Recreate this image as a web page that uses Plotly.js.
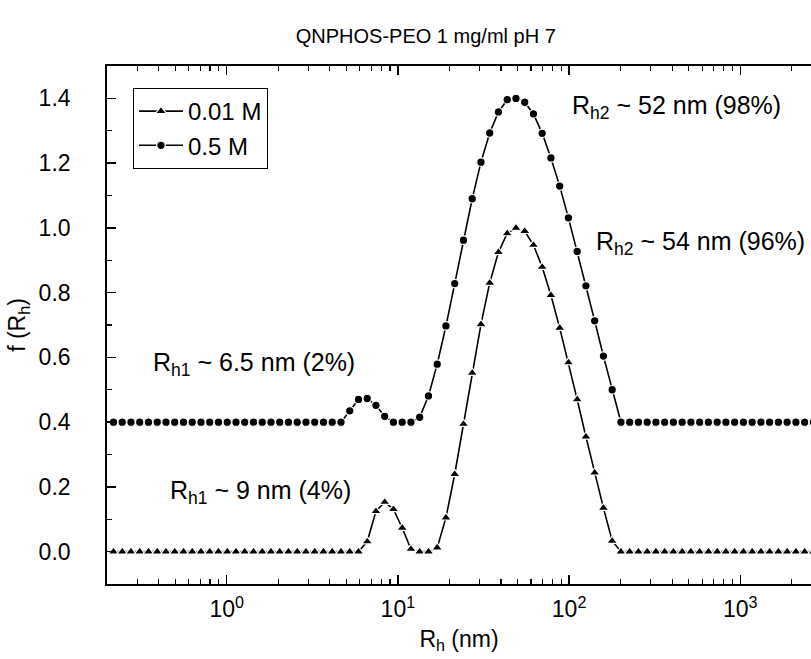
<!DOCTYPE html>
<html>
<head>
<meta charset="utf-8">
<script src="https://cdn.plot.ly/plotly-3.0.1.min.js"></script>
<style>html,body{margin:0;padding:0;background:#fff;}#chart{width:811px;height:659px;}</style>
</head>
<body>
<div id="chart"></div>
<script>
// Hydrodynamic radius grid (nm)
const rh = [0.2183, 0.2455, 0.2761, 0.3106, 0.3494, 0.3930, 0.4421, 0.4973, 0.5594, 0.6293,
  0.7079, 0.7963, 0.8958, 1.008, 1.134, 1.275, 1.434, 1.614, 1.815, 2.042,
  2.296, 2.583, 2.906, 3.269, 3.677, 4.136, 4.653, 5.234, 5.888, 6.622,
  7.447, 8.375, 9.423, 10.60, 11.92, 13.41, 15.09, 16.97, 19.09, 21.48,
  24.16, 27.17, 30.57, 34.38, 38.68, 43.51, 48.94, 55.06, 61.93, 69.66,
  78.34, 88.13, 99.13, 111.5, 125.4, 141.1, 158.7, 178.5, 200.9, 226.0,
  254.1, 285.8, 321.5, 361.7, 406.8, 457.6, 514.8, 579.0, 651.3, 732.7,
  824.1, 927.0, 1043, 1173, 1320, 1484, 1670, 1878, 2113, 2376, 2673];

// f(Rh) for 0.01 M
const f001 = [0, 0, 0, 0, 0, 0, 0, 0, 0, 0,
  0, 0, 0, 0, 0, 0, 0, 0, 0, 0,
  0, 0, 0, 0, 0, 0, 0, 0, 0, 0.031,
  0.125, 0.153, 0.131, 0.073, 0.008, 0, 0, 0.012, 0.105, 0.239,
  0.394, 0.552, 0.702, 0.83, 0.925, 0.983, 1.0, 0.99, 0.947, 0.879,
  0.792, 0.691, 0.584, 0.47, 0.355, 0.244, 0.135, 0.033, 0, 0,
  0, 0, 0, 0, 0, 0, 0, 0, 0, 0,
  0, 0, 0, 0, 0, 0, 0, 0, 0, 0, 0];

// f(Rh) for 0.5 M (plotted with +0.4 offset, as shown)
const f05 = [0.4, 0.4, 0.4, 0.4, 0.4, 0.4, 0.4, 0.4, 0.4, 0.4,
  0.4, 0.4, 0.4, 0.4, 0.4, 0.4, 0.4, 0.4, 0.4, 0.4,
  0.4, 0.4, 0.4, 0.4, 0.4, 0.4, 0.4, 0.435, 0.47, 0.473,
  0.452, 0.418, 0.4, 0.4, 0.4, 0.415, 0.481, 0.579, 0.697, 0.828,
  0.962, 1.09, 1.203, 1.293, 1.358, 1.396, 1.4, 1.388, 1.352, 1.292,
  1.216, 1.129, 1.031, 0.927, 0.821, 0.713, 0.604, 0.5, 0.4, 0.4,
  0.4, 0.4, 0.4, 0.4, 0.4, 0.4, 0.4, 0.4, 0.4, 0.4,
  0.4, 0.4, 0.4, 0.4, 0.4, 0.4, 0.4, 0.4, 0.4, 0.4, 0.4];

const seriesNames = ['0.01 M', '0.5 M'];
const xTickVals = [1, 10, 100, 1000];
const xTickText = ['10<sup>0</sup>', '10<sup>1</sup>', '10<sup>2</sup>', '10<sup>3</sup>'];
const titleText = 'QNPHOS-PEO 1 mg/ml pH 7';
const notes = [
  'R<sub>h2</sub> ~ 52 nm (98%)',
  'R<sub>h2</sub> ~ 54 nm (96%)',
  'R<sub>h1</sub> ~ 6.5 nm (2%)',
  'R<sub>h1</sub> ~ 9 nm (4%)'
];

const minorVals = [];
for (let d = -1; d <= 3; d++) {
  for (let m = 2; m <= 9; m++) minorVals.push(m * Math.pow(10, d));
}

const FONT = '"Liberation Sans", Arial, sans-serif';

const traces = [
  {
    x: rh, y: f001, name: seriesNames[0], type: 'scatter', mode: 'lines+markers',
    line: {color: '#000', width: 1.6},
    marker: {symbol: 'triangle-up', size: 9.5, color: '#000', line: {color: '#fff', width: 1.2}}
  },
  {
    x: rh, y: f05, name: seriesNames[1], type: 'scatter', mode: 'lines+markers',
    line: {color: '#000', width: 1.6},
    marker: {symbol: 'circle', size: 8.5, color: '#000', line: {color: '#fff', width: 1.2}}
  }
];

const W = 704, H = 518, L = 107, T = 66;
function px(x) { return (x - L) / W; }
function py(y) { return (T + H - y) / H; }

const noteFont = {family: FONT, size: 25, color: '#000'};

const layout = {
  width: 811, height: 659,
  margin: {l: L, r: 0, t: T, b: 659 - T - H},
  paper_bgcolor: '#fff', plot_bgcolor: '#fff',
  font: {family: FONT, size: 24, color: '#000'},
  showlegend: true,
  title: {text: titleText, font: {family: FONT, size: 20, color: '#000'},
          x: 0.525, xanchor: 'center', y: 1 - 36 / 659, yanchor: 'middle'},
  xaxis: {
    type: 'log', range: [Math.log10(0.2), 3.413],
    tickmode: 'array', tickvals: xTickVals, ticktext: xTickText,
    ticks: 'inside', ticklen: 9, tickwidth: 1.5, tickcolor: '#000',
    showline: true, linecolor: '#000', linewidth: 1.8, mirror: 'allticks',
    showgrid: false, zeroline: false,
    ticklabelstandoff: 4,
    tickfont: {family: FONT, size: 23, color: '#000'},
    minor: {tickmode: 'array', tickvals: minorVals, ticks: 'inside', ticklen: 5, tickwidth: 1.2, tickcolor: '#000', showgrid: false},
    title: {text: 'R<sub>h</sub> (nm)', font: {family: FONT, size: 23, color: '#000'}, standoff: 9}
  },
  yaxis: {
    range: [-0.1, 1.5], tick0: 0, dtick: 0.2, tickformat: '.1f',
    ticks: 'inside', ticklen: 9, tickwidth: 1.5, tickcolor: '#000',
    showline: true, linecolor: '#000', linewidth: 1.8, mirror: false,
    showgrid: false, zeroline: false,
    ticklabelstandoff: 30,
    tickfont: {family: FONT, size: 23, color: '#000'},
    minor: {dtick: 0.1, ticks: 'inside', ticklen: 5, tickwidth: 1.2, tickcolor: '#000', showgrid: false},
    title: {text: 'f (R<sub>h</sub>)', font: {family: FONT, size: 23, color: '#000'}, standoff: 6}
  },
  legend: {
    x: px(133), y: py(88), xanchor: 'left', yanchor: 'top',
    bgcolor: '#fff', bordercolor: '#000', borderwidth: 1,
    font: {family: FONT, size: 24, color: '#000'},
    itemwidth: 44,
    tracegroupgap: 0
  },
  annotations: [
    {text: notes[0], xref: 'paper', yref: 'paper', x: px(783), y: py(107), xanchor: 'right', yanchor: 'middle', showarrow: false, font: noteFont},
    {text: notes[1], xref: 'paper', yref: 'paper', x: px(807), y: py(243), xanchor: 'right', yanchor: 'middle', showarrow: false, font: noteFont},
    {text: notes[2], xref: 'paper', yref: 'paper', x: px(357), y: py(364), xanchor: 'right', yanchor: 'middle', showarrow: false, font: noteFont},
    {text: notes[3], xref: 'paper', yref: 'paper', x: px(353), y: py(492), xanchor: 'right', yanchor: 'middle', showarrow: false, font: noteFont}
  ]
};

Plotly.newPlot('chart', traces, layout, {staticPlot: true, displayModeBar: false});
</script>
</body>
</html>
